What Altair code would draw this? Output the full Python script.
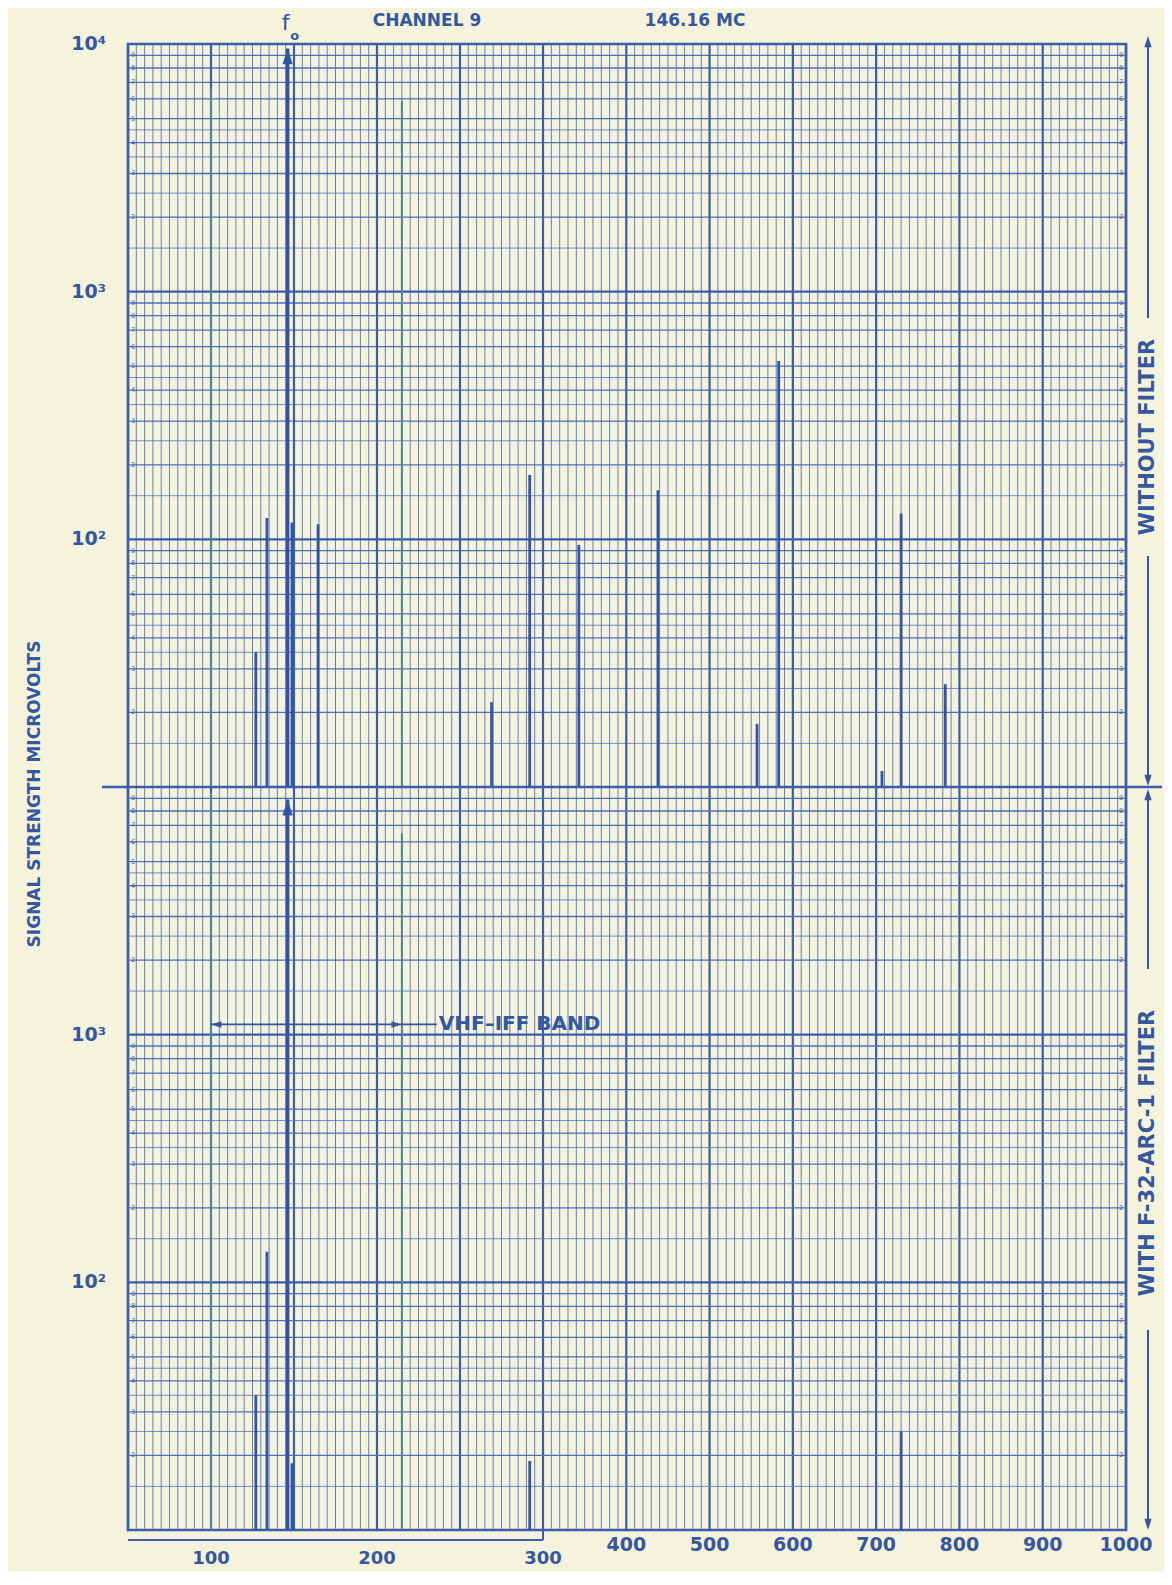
import altair as alt
import pandas as pd

# ---------------- data ----------------
FO_MC = 146.16
top_freq_mc = [127.0, 133.7, 148.8, 164.5, 269.0, 292.0, 343.0, 438.0, 557.0, 583.0, 707.0, 730.0, 783.0]
top_uv = [35, 122, 117, 115, 22, 182, 95, 158, 18, 525, 11.6, 127, 26]

bot_freq_mc = [127.0, 133.7, 148.8, 292.0, 730.0]
bot_uv = [35, 133, 18.6, 19, 25]

band_edge_mc = [100, 215]
band_edge_top_uv = [6600, 5900]
band_edge_bot_uv = [9500, 6500]
fo_tip_top_uv = [9600]
fo_tip_bot_uv = [8900]
band_arrow_uv = [1100]
band_text_mc = [236]

x_labels_low = [100, 200, 300]
x_labels_high = [400, 500, 600, 700, 800, 900, 1000]
y_labels_top = [10000, 1000, 100]
y_text_top = ["10⁴", "10³", "10²"]
y_labels_bot = [1000, 100]
y_text_bot = ["10³", "10²"]

grid_mult_half = [1.5, 2.5, 3.5, 4.5]
grid_mult_int = [2, 3, 4, 5, 6, 7, 8, 9]
grid_decades = [10, 100, 1000, 10000]
paper_digits = [2, 3, 4, 5, 6, 7, 8, 9]
decades = [10, 100, 1000]

# ---------------- styling ----------------
PAPER = "#f6f3dc"
GRID_MAJ = "#3a5dab"
GRID_MID = "#4d6fb8"
GRID_MIN = "#607fc3"
INK = "#35579f"
SPIKE = "#3254a3"
EDGE = "#4b879c"
FONT = "DejaVu Sans"

W, HH = 998, 743
H = 2 * HH

# graph-paper rulings (10 small divisions per large division)
x_minor = [50 + 5 * i for i in range(51) if i % 10] + [300 + 10 * i for i in range(1, 71) if i % 10]
x_major = [50 + 50 * i for i in range(6)] + [300 + 100 * i for i in range(1, 8)]
y_half = [m * d for d in decades for m in grid_mult_half]
y_int = [m * d for d in decades for m in grid_mult_int]

xs = alt.Scale(domain=[50, 300, 1000], range=[0, 415, W], nice=False, zero=False)
ys_top = alt.Scale(type="log", domain=[10, 10000], range=[HH, 0], nice=False)
ys_bot = alt.Scale(type="log", domain=[10, 10000], range=[H, HH], nice=False)

UP = "M0,0L-0.42,1.3L0.42,1.3Z"
DOWN = "M0,0L-0.42,-1.3L0.42,-1.3Z"
LEFT = "M0,0L1.3,-0.4L1.3,0.4Z"
RIGHT = "M0,0L-1.3,-0.4L-1.3,0.4Z"


def xq(field="f"):
    return alt.X(f"{field}:Q", scale=xs, axis=None)


def yq(scale, field="uv"):
    return alt.Y(f"{field}:Q", scale=scale, axis=None)


def txt(s, x, y, size, angle=0, align="center", weight="bold"):
    return alt.Chart(pd.DataFrame({"t": [s]})).mark_text(
        font=FONT, fontSize=size, fontWeight=weight, angle=angle, align=align,
        baseline="middle", color=INK,
    ).encode(text="t:N", x=alt.value(x), y=alt.value(y))


def vline(x, y1, y2, w=2):
    return alt.Chart(pd.DataFrame({"a": [0]})).mark_rule(color=INK, strokeWidth=w).encode(
        x=alt.value(x), y=alt.value(y1), y2=alt.value(y2))


def head(shape, x, y, size=300):
    return alt.Chart(pd.DataFrame({"a": [0]})).mark_point(
        shape=shape, size=size, filled=True, color=INK, opacity=1, strokeWidth=0
    ).encode(x=alt.value(x), y=alt.value(y))


def hgrid(scale):
    half = alt.Chart(pd.DataFrame({"uv": y_half})).mark_rule(color=GRID_MIN, strokeWidth=0.9).encode(y=yq(scale))
    ints = alt.Chart(pd.DataFrame({"uv": y_int})).mark_rule(color=GRID_MID, strokeWidth=1.3).encode(y=yq(scale))
    major = alt.Chart(pd.DataFrame({"uv": grid_decades})).mark_rule(color=GRID_MAJ, strokeWidth=2.2).encode(y=yq(scale))
    return [half, ints, major]


def digits(scale):
    df = pd.DataFrame([{"uv": m * d, "t": str(m)} for d in decades for m in paper_digits])
    base = alt.Chart(df).mark_text(font=FONT, fontSize=6.5, color=GRID_MAJ, baseline="middle")
    return [
        base.encode(text="t:N", x=alt.value(5), y=yq(scale)),
        base.encode(text="t:N", x=alt.value(W - 5), y=yq(scale)),
    ]


def ylabels(vals, texts, scale):
    df = pd.DataFrame({"uv": vals, "t": texts})
    return alt.Chart(df).mark_text(font=FONT, fontSize=19, fontWeight="bold", color=INK, align="right",
                                   baseline="middle").encode(x=alt.value(-22), y=yq(scale), text="t:N")


vgrid_minor = alt.Chart(pd.DataFrame({"f": x_minor})).mark_rule(color=GRID_MIN, strokeWidth=1).encode(x=xq())
vgrid_major = alt.Chart(pd.DataFrame({"f": x_major})).mark_rule(color=GRID_MAJ, strokeWidth=2.2).encode(x=xq())

# ---------------- upper panel: without filter ----------------
df_top = pd.DataFrame({"f": top_freq_mc, "uv": top_uv})
top_spikes = alt.Chart(df_top).mark_rule(color=SPIKE, strokeWidth=2.8).encode(
    x=xq(), y=yq(ys_top), y2=alt.datum(10))
df_edge_top = pd.DataFrame({"f": band_edge_mc, "uv": band_edge_top_uv})
edge_top = alt.Chart(df_edge_top).mark_rule(color=EDGE, strokeWidth=2).encode(
    x=xq(), y=yq(ys_top), y2=alt.datum(10))
df_fo_top = pd.DataFrame({"f": [FO_MC], "uv": fo_tip_top_uv})
fo_top = alt.Chart(df_fo_top).mark_rule(color=SPIKE, strokeWidth=3.6).encode(
    x=xq(), y=yq(ys_top), y2=alt.datum(10))
fo_top_head = alt.Chart(df_fo_top).mark_point(
    shape=UP, size=600, filled=True, color=SPIKE, opacity=1, strokeWidth=0
).encode(x=xq(), y=yq(ys_top))
divider = alt.Chart(pd.DataFrame({"uv": [10]})).mark_rule(color=GRID_MAJ, strokeWidth=2.4).encode(
    y=yq(ys_top), x=alt.value(-26), x2=alt.value(W + 36))

df_fo_lbl = pd.DataFrame({"f": [FO_MC], "t": ["f"], "s": ["o"]})
f_lbl = alt.Chart(df_fo_lbl).mark_text(font=FONT, fontSize=22, color=INK, dx=-2, baseline="middle").encode(
    x=xq(), y=alt.value(-21), text="t:N")
o_lbl = alt.Chart(df_fo_lbl).mark_text(font=FONT, fontSize=13, fontWeight="bold", color=INK, dx=7,
                                       baseline="middle").encode(x=xq(), y=alt.value(-8), text="s:N")

top = alt.layer(
    vgrid_minor, *hgrid(ys_top), vgrid_major, *digits(ys_top),
    top_spikes, edge_top, fo_top, fo_top_head, divider, f_lbl, o_lbl,
    ylabels(y_labels_top, y_text_top, ys_top),
    txt("CHANNEL  9", 299, -23, 17),
    txt("146.16 MC", 567, -23, 17),
    txt("SIGNAL STRENGTH MICROVOLTS", -93, 750, 17, angle=270),
    vline(1020, -4, 274), head(UP, 1020, -8),
    txt("WITHOUT  FILTER", 1020, 393, 21, angle=270),
    vline(1020, 512, 735), head(DOWN, 1020, 742),
)

# ---------------- lower panel: with F-32-ARC-1 filter ----------------
df_bot = pd.DataFrame({"f": bot_freq_mc, "uv": bot_uv})
bot_spikes = alt.Chart(df_bot).mark_rule(color=SPIKE, strokeWidth=2.8).encode(
    x=xq(), y=yq(ys_bot), y2=alt.datum(10))
df_edge_bot = pd.DataFrame({"f": band_edge_mc, "uv": band_edge_bot_uv})
edge_bot = alt.Chart(df_edge_bot).mark_rule(color=EDGE, strokeWidth=2).encode(
    x=xq(), y=yq(ys_bot), y2=alt.datum(10))
df_fo_bot = pd.DataFrame({"f": [FO_MC], "uv": fo_tip_bot_uv})
fo_bot = alt.Chart(df_fo_bot).mark_rule(color=SPIKE, strokeWidth=3.6).encode(
    x=xq(), y=yq(ys_bot), y2=alt.datum(10))
fo_bot_head = alt.Chart(df_fo_bot).mark_point(
    shape=UP, size=600, filled=True, color=SPIKE, opacity=1, strokeWidth=0
).encode(x=xq(), y=yq(ys_bot))

df_band = pd.DataFrame({"f1": [band_edge_mc[0]], "f2": [band_edge_mc[1]], "f3": band_text_mc,
                        "uv": band_arrow_uv, "t": ["VHF–IFF  BAND"]})
band_line = alt.Chart(df_band).mark_rule(color=INK, strokeWidth=1.8).encode(
    x=xq("f1"), x2="f3:Q", y=yq(ys_bot))
band_l = alt.Chart(df_band).mark_point(shape=LEFT, size=260, filled=True, color=INK, opacity=1,
                                       strokeWidth=0).encode(x=xq("f1"), y=yq(ys_bot))
band_r = alt.Chart(df_band).mark_point(shape=RIGHT, size=260, filled=True, color=INK, opacity=1,
                                       strokeWidth=0).encode(x=xq("f2"), y=yq(ys_bot))
band_txt = alt.Chart(df_band).mark_text(font=FONT, fontSize=20, fontWeight="bold", color=INK, align="left",
                                        baseline="middle", dx=2).encode(x=xq("f3"), y=yq(ys_bot), text="t:N")

df_xl_hi = pd.DataFrame({"f": x_labels_high, "t": [str(v) for v in x_labels_high]})
df_xl_lo = pd.DataFrame({"f": x_labels_low, "t": [str(v) for v in x_labels_low]})
xl_hi = alt.Chart(df_xl_hi).mark_text(font=FONT, fontSize=19, fontWeight="bold", color=INK,
                                      baseline="middle").encode(x=xq(), y=alt.value(H + 15), text="t:N")
xl_lo = alt.Chart(df_xl_lo).mark_text(font=FONT, fontSize=18, fontWeight="bold", color=INK,
                                      baseline="middle").encode(x=xq(), y=alt.value(H + 29), text="t:N")

df_strip = pd.DataFrame({"a": [50], "b": [x_labels_low[-1]]})
strip_h = alt.Chart(df_strip).mark_rule(color=GRID_MAJ, strokeWidth=2).encode(
    x=xq("a"), x2="b:Q", y=alt.value(H + 10))
strip_v = alt.Chart(df_strip).mark_rule(color=GRID_MAJ, strokeWidth=2).encode(
    x=xq("b"), y=alt.value(H), y2=alt.value(H + 10))

bottom = alt.layer(
    *hgrid(ys_bot), *digits(ys_bot),
    bot_spikes, edge_bot, fo_bot, fo_bot_head, band_line, band_l, band_r, band_txt,
    ylabels(y_labels_bot, y_text_bot, ys_bot),
    xl_hi, xl_lo, strip_h, strip_v,
    head(UP, 1020, 745), vline(1020, 752, 925),
    txt("WITH F-32-ARC-1 FILTER", 1020, 1109, 21, angle=270),
    vline(1020, 1286, 1478), head(DOWN, 1020, 1486),
)

chart = (
    alt.layer(top, bottom)
    .resolve_scale(y="independent")
    .properties(
        width=W, height=H,
        padding={"left": 120, "top": 36, "right": 38, "bottom": 41},
        autosize=alt.AutoSizeParams(type="none"),
    )
    .configure(background=PAPER)
    .configure_view(stroke=GRID_MAJ, strokeWidth=2.6, fill=PAPER)
)

chart.save("out.html", embed_options={"renderer": "svg", "actions": False})
